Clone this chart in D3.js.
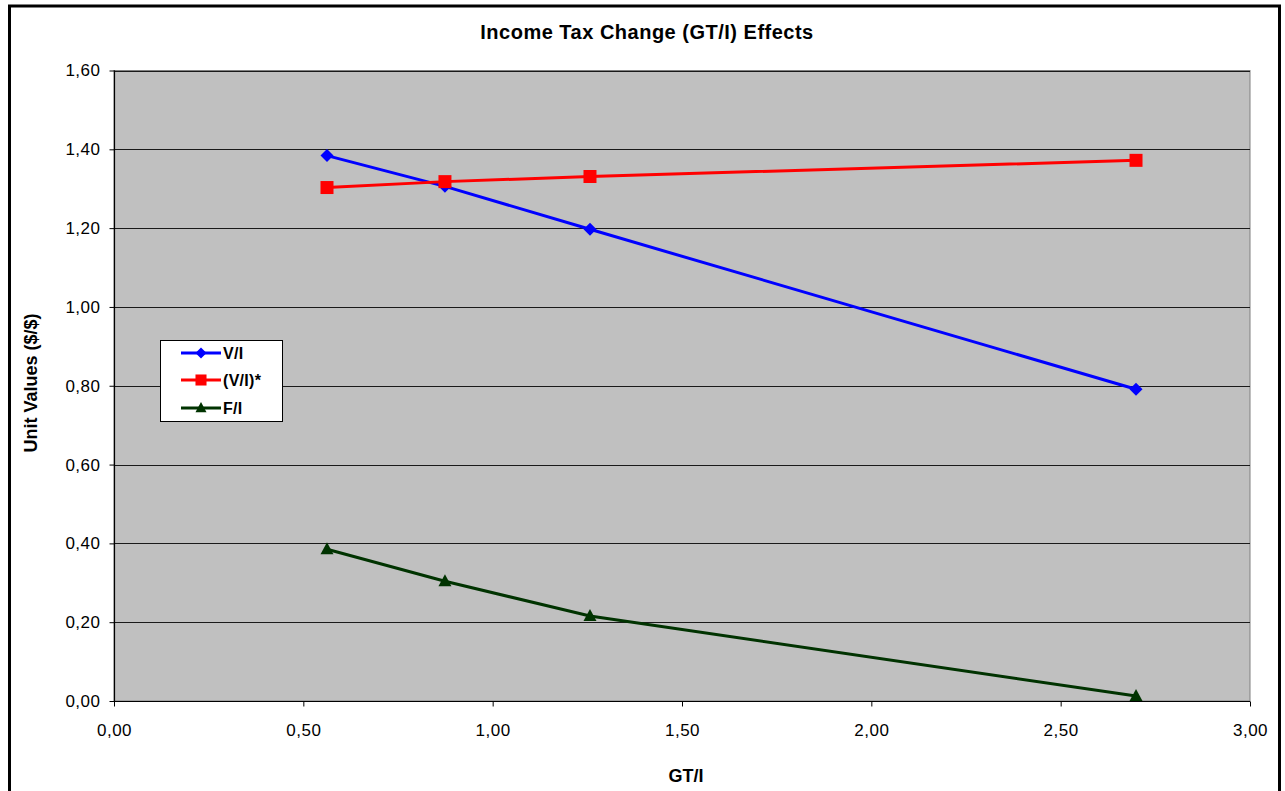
<!DOCTYPE html>
<html>
<head>
<meta charset="utf-8">
<script src="https://cdn.jsdelivr.net/npm/d3@7"></script>
<style>
  html, body { margin: 0; padding: 0; background: #fff; }
  svg { display: block; font-family: "Liberation Sans", Arial, sans-serif; }
</style>
</head>
<body>
<svg id="chart" width="1285" height="791"></svg>
<script>
// GT/I values shared by all three series
const gtI = [0.5625, 0.874, 1.257, 2.699];
const seriesNames = ["V/I", "(V/I)*", "F/I"];
const vI = [1.384, 1.306, 1.197, 0.791];
const vIStar = [1.303, 1.318, 1.331, 1.372];
const fI = [0.385, 0.304, 0.2155, 0.0127];
const xTicks = [0, 0.5, 1, 1.5, 2, 2.5, 3];
const yTicks = [0, 0.2, 0.4, 0.6, 0.8, 1.0, 1.2, 1.4, 1.6];

const svg = d3.select("#chart");
const plot = { left: 114, right: 1250, top: 70.5, bottom: 701 };
const FONT = '"Liberation Sans", Arial, sans-serif';

// outer chart frame
svg.append("rect")
  .attr("x", 9.5).attr("y", 6)
  .attr("width", 1270).attr("height", 800)
  .attr("fill", "#fff").attr("stroke", "#000").attr("stroke-width", 3);

const x = d3.scaleLinear().domain([0, 3]).range([plot.left, plot.right]);
const y = d3.scaleLinear().domain([0, 1.6]).range([plot.bottom, plot.top]);
const fmt = v => d3.format(".2f")(v).replace(".", ",");

// plot background
svg.append("rect")
  .attr("x", plot.left).attr("y", plot.top)
  .attr("width", plot.right - plot.left).attr("height", plot.bottom - plot.top)
  .attr("fill", "#c0c0c0").attr("stroke", "#808080").attr("stroke-width", 1);

// horizontal gridlines
svg.append("g").selectAll("line")
  .data(yTicks.filter(t => t > 0))
  .join("line")
  .attr("x1", plot.left).attr("x2", plot.right)
  .attr("y1", d => Math.round(y(d)) + 0.5).attr("y2", d => Math.round(y(d)) + 0.5)
  .attr("stroke", "#1a1a1a").attr("stroke-width", 1);

// axes
const yAxis = d3.axisLeft(y).tickValues(yTicks).tickFormat(fmt).tickSize(5).tickPadding(9);
const gy = svg.append("g").attr("transform", `translate(${plot.left + 0.5},0)`).call(yAxis);
const xAxis = d3.axisBottom(x).tickValues(xTicks).tickFormat(fmt).tickSize(5).tickPadding(17);
const gx = svg.append("g").attr("transform", `translate(0,${plot.bottom + 0.5})`).call(xAxis);
[gx, gy].forEach(g => {
  g.attr("font-size", null).attr("font-family", null);
  g.select(".domain").attr("stroke", "#000").attr("stroke-width", 1.2);
  g.selectAll(".tick line").attr("stroke", "#000");
  g.selectAll("text")
    .style("font-size", "17px").style("letter-spacing", "0.5px")
    .style("font-family", FONT).attr("fill", "#000");
});
gy.select(".domain").attr("d", `M0,${plot.top}V${plot.bottom}`);
gx.select(".domain").attr("d", `M${plot.left},0H${plot.right}`);

// series
const series = [
  { name: seriesNames[0], values: vI, color: "#0000ff", marker: "diamond" },
  { name: seriesNames[1], values: vIStar, color: "#ff0000", marker: "square" },
  { name: seriesNames[2], values: fI, color: "#003300", marker: "triangle" }
];

function markerPath(type) {
  if (type === "diamond") return "M0,-6.5L6.5,0L0,6.5L-6.5,0Z";
  if (type === "square") return "M-6.5,-6.5H6.5V6.5H-6.5Z";
  return "M0,-7L6.5,5H-6.5Z";
}

const line = d3.line().x(d => x(d[0])).y(d => y(d[1]));
series.forEach(s => {
  const pts = gtI.map((g, i) => [g, s.values[i]]);
  svg.append("path").datum(pts)
    .attr("d", line).attr("fill", "none")
    .attr("stroke", s.color).attr("stroke-width", 3);
  svg.append("g").selectAll("path")
    .data(pts).join("path")
    .attr("transform", d => `translate(${x(d[0])},${y(d[1])})`)
    .attr("d", markerPath(s.marker))
    .attr("fill", s.color);
});

// legend
const lg = svg.append("g");
lg.append("rect").attr("x", 160.5).attr("y", 340.5).attr("width", 122).attr("height", 81)
  .attr("fill", "#fff").attr("stroke", "#000").attr("stroke-width", 1);
const legendY = [353, 380, 408];
series.forEach((s, i) => {
  const ly = legendY[i];
  lg.append("line").attr("x1", 181).attr("x2", 221).attr("y1", ly).attr("y2", ly)
    .attr("stroke", s.color).attr("stroke-width", 3);
  lg.append("path")
    .attr("d", markerPath(s.marker)).attr("fill", s.color)
    .attr("transform", `translate(201,${ly}) scale(0.85)`);
  lg.append("text").attr("x", 223).attr("y", ly + 6)
    .style("font-size", "16px").style("letter-spacing", "0.3px")
    .attr("font-weight", "bold").text(s.name);
});

// titles
svg.append("text").attr("x", 647).attr("y", 39).attr("text-anchor", "middle")
  .style("font-size", "20px").style("letter-spacing", "0.5px")
  .attr("font-weight", "bold").text("Income Tax Change (GT/I) Effects");
svg.append("text").attr("x", 686).attr("y", 782).attr("text-anchor", "middle")
  .style("font-size", "18px")
  .attr("font-weight", "bold").text("GT/I");
svg.append("text").attr("transform", "translate(37,383) rotate(-90)")
  .attr("text-anchor", "middle")
  .style("font-size", "18px")
  .attr("font-weight", "bold").text("Unit Values ($/$)");
</script>
</body>
</html>
